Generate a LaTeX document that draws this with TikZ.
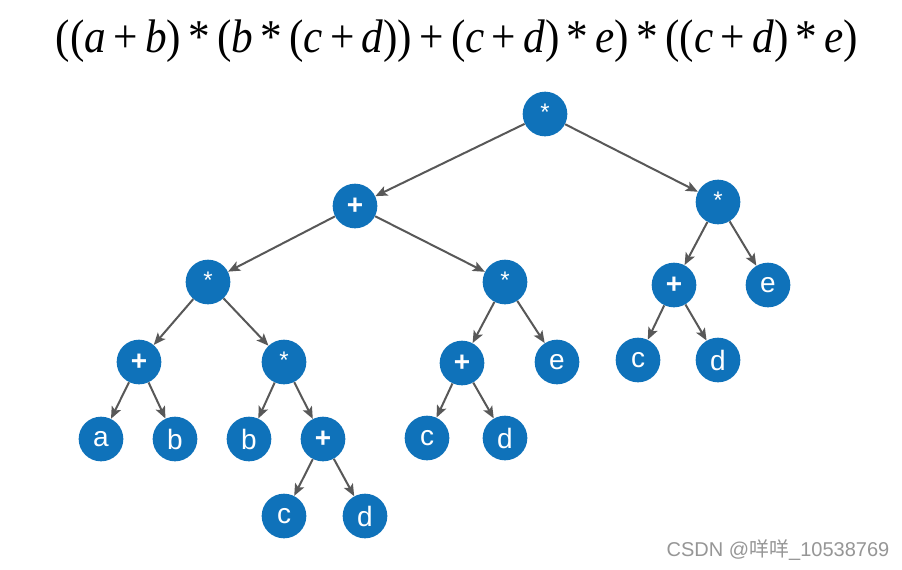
\documentclass[tikz,border=0pt]{standalone}
\usepackage{fontspec}
\usepackage{graphicx}
\setmainfont{Liberation Serif}
\newfontfamily\nodefont{Liberation Sans}
\newfontfamily\cjkfont{Noto Sans CJK SC}
\usetikzlibrary{arrows.meta}
\definecolor{nodeblue}{RGB}{15,114,186}
\definecolor{edgegray}{RGB}{88,88,88}
\definecolor{wmgray}{RGB}{150,150,150}
\begin{document}
\begin{tikzpicture}[x=0.75pt,y=-0.75pt,
  tn/.style={circle,fill=nodeblue,draw=none,minimum size=33.5pt,inner sep=0pt,
    text=white,font=\nodefont\fontsize{21pt}{22pt}\selectfont},
  opn/.style={tn,font=\nodefont\bfseries\fontsize{21pt}{22pt}\selectfont},
  mul/.style={tn,font=\nodefont\fontsize{18pt}{18pt}\selectfont},
  edge/.style={draw=edgegray,line width=1.5pt,
    -{Stealth[length=9pt,width=7.5pt,inset=2pt]},shorten >=0pt}]
\useasboundingbox (0,0) rectangle (902,569);
\fill[white] (0,0) rectangle (902,569);

% formula
\node[inner sep=0pt] (formula) at (457,41) {\resizebox*{601.5pt}{32pt}{%
((\textit{a}\,+\,\textit{b})\,*\,(\textit{b}\,*\,(\textit{c}\,+\,\textit{d}))\,+\,(\textit{c}\,+\,\textit{d})\,*\,\textit{e})\,*\,((\textit{c}\,+\,\textit{d})\,*\,\textit{e})}};

% nodes
\node[mul] (r)   at (545,114) {\raisebox{3pt}{*}};
\node[opn] (p1)  at (355,206) {+};
\node[mul] (m2)  at (718,202) {\raisebox{3pt}{*}};
\node[mul] (m3)  at (208,282) {\raisebox{3pt}{*}};
\node[mul] (m4)  at (505,282) {\raisebox{3pt}{*}};
\node[opn] (p5)  at (674,285) {+};
\node[tn]  (e6)  at (768,285) {e};
\node[opn] (p7)  at (139,362) {+};
\node[mul] (m8)  at (284,362) {\raisebox{3pt}{*}};
\node[opn] (p9)  at (462,363) {+};
\node[tn]  (e10) at (557,362) {e};
\node[tn]  (c11) at (638,360) {c};
\node[tn]  (d12) at (718,360) {d};
\node[tn]  (a13) at (101,439) {a};
\node[tn]  (b14) at (175,439) {b};
\node[tn]  (b15) at (249,439) {b};
\node[opn] (p16) at (323,439) {+};
\node[tn]  (c17) at (427,438) {c};
\node[tn]  (d18) at (505,438) {d};
\node[tn]  (c19) at (284,516) {c};
\node[tn]  (d20) at (365,516) {d};

% edges
\draw[edge] (r) -- (p1);
\draw[edge] (r) -- (m2);
\draw[edge] (p1) -- (m3);
\draw[edge] (p1) -- (m4);
\draw[edge] (m2) -- (p5);
\draw[edge] (m2) -- (e6);
\draw[edge] (m3) -- (p7);
\draw[edge] (m3) -- (m8);
\draw[edge] (m4) -- (p9);
\draw[edge] (m4) -- (e10);
\draw[edge] (p5) -- (c11);
\draw[edge] (p5) -- (d12);
\draw[edge] (p7) -- (a13);
\draw[edge] (p7) -- (b14);
\draw[edge] (m8) -- (b15);
\draw[edge] (m8) -- (p16);
\draw[edge] (p9) -- (c17);
\draw[edge] (p9) -- (d18);
\draw[edge] (p16) -- (c19);
\draw[edge] (p16) -- (d20);

% watermark
\node[text=wmgray,font=\nodefont\fontsize{15pt}{17pt}\selectfont,inner sep=0pt] (wm) at (778,550) {CSDN @{\cjkfont 咩咩}\_10538769};
\end{tikzpicture}
\end{document}
